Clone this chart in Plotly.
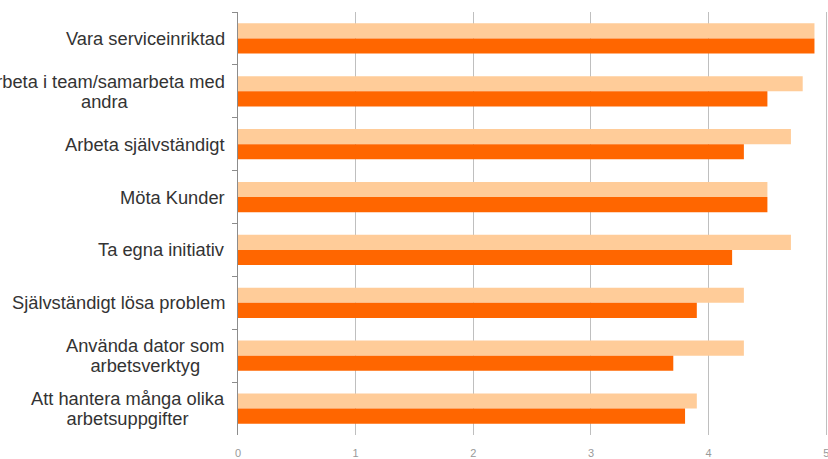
import plotly.graph_objects as go

categories = [
    "Vara serviceinriktad",
    "Arbeta i team/samarbeta med<br>andra",
    "Arbeta självständigt",
    "Möta Kunder",
    "Ta egna initiativ",
    "Självständigt lösa problem",
    "Använda dator som<br>arbetsverktyg",
    "Att hantera många olika<br>arbetsuppgifter",
]
series_light = [4.9, 4.8, 4.7, 4.5, 4.7, 4.3, 4.3, 3.9]
series_dark = [4.9, 4.5, 4.3, 4.5, 4.2, 3.9, 3.7, 3.8]
x_ticks = [0, 1, 2, 3, 4, 5]

fig = go.Figure()
fig.add_trace(go.Bar(y=categories, x=series_light, orientation="h",
                     marker=dict(color="#FFCC99", line=dict(width=0)),
                     showlegend=False, hoverinfo="skip"))
fig.add_trace(go.Bar(y=categories, x=series_dark, orientation="h",
                     marker=dict(color="#FF6600", line=dict(width=0)),
                     showlegend=False, hoverinfo="skip"))

for c in categories:
    label = "<br>".join('<span style="font-size:18.3px">%s</span>' % part
                        for part in c.split("<br>"))
    fig.add_annotation(x=0, xref="paper", y=c, yref="y", text=label,
                       showarrow=False, xanchor="right", yanchor="middle",
                       align="center", xshift=-11,
                       font=dict(family="Liberation Sans, Arial, sans-serif",
                                 size=15.4, color="#333333"))

fig.update_layout(
    width=828, height=459,
    margin=dict(l=238, r=0.2, t=12, b=24, autoexpand=False),
    paper_bgcolor="white", plot_bgcolor="white",
    barmode="group", bargap=0.43, bargroupgap=0,
    font=dict(family="Liberation Sans, Arial, sans-serif"),
    xaxis=dict(range=[0, 5.015], tickvals=x_ticks, showgrid=True,
               gridcolor="#BFBFBF", gridwidth=1, zeroline=False,
               showline=False, ticks="", ticklabelstandoff=10,
               ticklabeloverflow="allow",
               automargin=False,
               tickfont=dict(size=11, color="#999999")),
    yaxis=dict(autorange="reversed", showticklabels=False, showgrid=False,
               showline=True, linecolor="#8C8C8C", linewidth=1,
               ticks="outside", tickson="boundaries", ticklen=5,
               tickcolor="#8C8C8C", zeroline=False, automargin=False),
)

fig.write_html(
    "out.html",
    config={"displayModeBar": False},
    post_script="document.body.style.margin='0';document.body.style.overflow='hidden';",
)
